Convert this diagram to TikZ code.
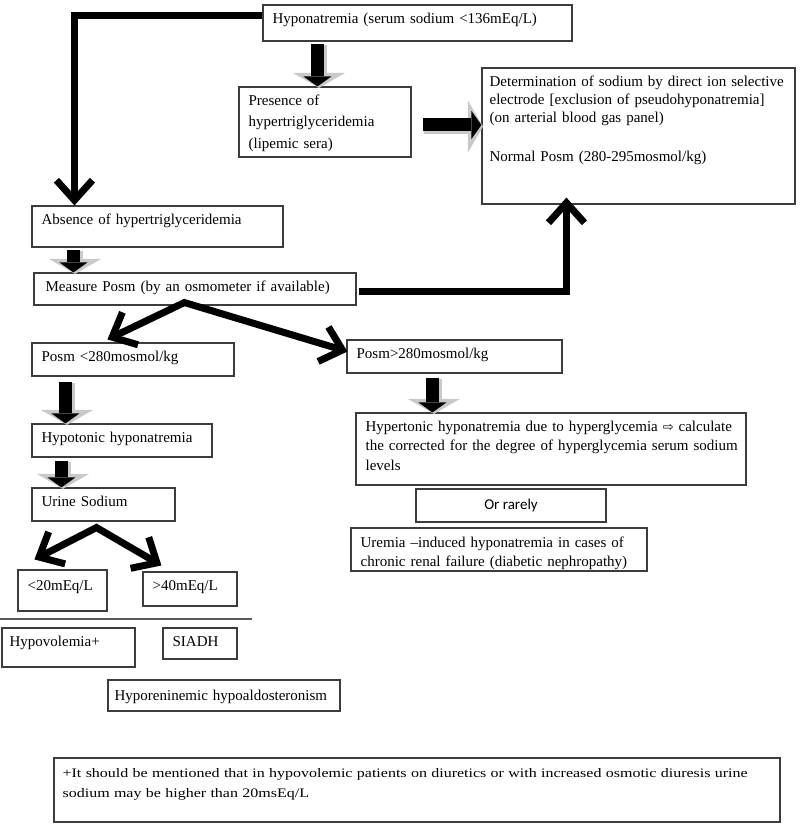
\documentclass[tikz,border=0pt]{standalone}
\usepackage{fontspec}
\setmainfont{Liberation Serif}
\newfontfamily\calibrifont{Carlito}
\newfontfamily\symbolfont{DejaVu Sans}
\newfontfamily\notefont[FakeStretch=1.23]{Liberation Serif}
\usetikzlibrary{arrows.meta,calc}
\definecolor{ink}{HTML}{000000}
\definecolor{frame}{HTML}{3C3C3C}
\definecolor{bevel}{HTML}{C9C9C9}
\definecolor{rule}{HTML}{5A5A5A}
\tikzset{
  chevron/.tip={Straight Barb[length=20pt,width=36pt]},
  boxframe/.style={draw=frame, line width=1.1pt, inner sep=0pt},
  boxtext/.style={anchor=base west, inner sep=0pt, align=left, text=ink, font=\fontsize{15}{18}\selectfont},
  bigarrow/.style={draw=ink, line width=7pt, -chevron},
  forkarrow/.style={draw=ink, line width=7pt, chevron-chevron},
  blockbody/.style={draw=ink, line width=13pt, -{Triangle[length=10pt,width=28pt,line width=0pt]}},
  blockbevel/.style={draw=bevel, line width=16pt, -{Triangle[length=15pt,width=52pt,line width=0pt]}},
}
% box from (x1,y1) to (x2,y2), text hung from its top left corner
\newcommand{\flowbox}[7][]{%
  \node[boxframe, minimum width={#5-#3}, minimum height={#6-#4}] (#2) at ({(#3+#5)/2},{(#4+#6)/2}) {};
  \node[boxtext, text width={#5-#3}, #1] (#2-t) at ($(#2.north west)+(10,19)$) {#7};}
\newcommand{\blockarrow}[2]{%
  \draw[blockbevel, transform canvas={shift={(1.5pt,-1.5pt)}}] (#1) -- (#2);
  \draw[blockbody] (#1) -- (#2);}

\begin{document}
\begin{tikzpicture}[x=1pt,y=-1pt]
\useasboundingbox (0,0) rectangle (800,829);

% top
\flowbox{hypo}{263}{5}{572}{41}{Hyponatremia (serum sodium <136mEq/L)}
\flowbox[font=\fontsize{15}{21.5}\selectfont]{pres}{239}{87}{411}{157}{Presence of\\hypertriglyceridemia\\(lipemic sera)}
\flowbox[xshift=-2pt]{det}{482}{68}{795}{204}{Determination of sodium by direct ion selective\\electrode [exclusion of pseudohyponatremia]\\(on arterial blood gas panel)\\[21pt]Normal Posm (280-295mosmol/kg)}
\flowbox{absence}{32}{206}{283}{247}{Absence of hypertriglyceridemia}
\flowbox[xshift=2pt]{measure}{34}{273}{356}{305}{Measure Posm (by an osmometer if available)}

% hypotonic branch
\flowbox{posmlow}{32}{343}{234}{376}{Posm <280mosmol/kg}
\flowbox{hypotonic}{32}{424}{212}{457}{Hypotonic hyponatremia}
\flowbox{urine}{32}{488}{175}{521}{Urine Sodium}
\flowbox[yshift=-2pt]{low20}{18}{570}{107}{611}{<20mEq/L}
\flowbox{high40}{143}{572}{237}{606}{>40mEq/L}
\draw[rule, line width=1.3pt] (0,619) -- (252,619);
\flowbox[xshift=-2pt]{hypovol}{2}{628}{135}{667}{Hypovolemia+}
\flowbox{siadh}{163}{628}{237}{659}{SIADH}
\flowbox[xshift=-3pt, yshift=-2pt]{hyporen}{108}{680}{340}{711}{Hyporeninemic hypoaldosteronism}

% hypertonic branch
\flowbox{posmhigh}{347}{340}{562}{373}{Posm>280mosmol/kg}
\flowbox[font=\fontsize{15}{19.5}\selectfont]{hypertonic}{356}{413}{746}{485}{Hypertonic hyponatremia due to hyperglycemia {\symbolfont\fontsize{13}{18}\selectfont ⇨} calculate\\the corrected for the degree of hyperglycemia serum sodium\\levels}
\node[boxframe, minimum width=190, minimum height=33, font=\calibrifont\fontsize{15}{18}\selectfont] (rarely) at (511,505.5) {Or rarely};
\flowbox[font=\fontsize{15}{19}\selectfont, yshift=-1pt]{uremia}{351}{528}{647}{571}{Uremia –induced hyponatremia in cases of\\chronic renal failure (diabetic nephropathy)}

% footnote
\flowbox[font=\notefont\fontsize{13}{20}\selectfont, xshift=-1pt, yshift=-1pt]{footnote}{54}{758}{780}{822}{+It should be mentioned that in hypovolemic patients on diuretics or with increased osmotic diuresis urine\\sodium may be higher than 20msEq/L}

% block arrows
\coordinate (hypo-out) at ($(hypo.south -| pres.north west)+(79,2)$);
\coordinate (pres-in) at ($(pres.north west)+(79,0)$);
\coordinate (pres-out) at ($(pres.east)+(11,3)$);
\coordinate (det-in) at (pres-out -| det.west);
\coordinate (abs-out) at ($(absence.south west)+(42,2)$);
\coordinate (meas-in) at ($(measure.north west)+(40,0)$);
\coordinate (low-out) at ($(posmlow.south west)+(34,5)$);
\coordinate (hypot-in) at ($(hypotonic.north west)+(34,0)$);
\coordinate (hypot-out) at ($(hypotonic.south west)+(30,3)$);
\coordinate (urine-in) at ($(urine.north west)+(30,0)$);
\coordinate (high-out) at ($(posmhigh.south west)+(86,4)$);
\coordinate (hyper-in) at ($(hypertonic.north west)+(77,0)$);
\blockarrow{hypo-out}{pres-in}
\blockarrow{pres-out}{det-in}
\blockarrow{abs-out}{meas-in}
\blockarrow{low-out}{hypot-in}
\blockarrow{hypot-out}{urine-in}
\blockarrow{high-out}{hyper-in}

% thick arrows
\draw[bigarrow] ($(hypo.north west)+(0,11)$) -| ($(absence.north west)+(43,0)$);
\draw[bigarrow] ($(measure.east)+(2,2)$) -| ($(det.south west)+(85,-7)$);
\coordinate (fork1) at ($(measure.south west)+(151,-3)$);
\draw[forkarrow] ($(posmlow.north west)+(76,-3)$) -- (fork1) -- ($(posmhigh.west)+(1,-5)$);
\coordinate (fork2) at ($(urine.south west)+(65,6)$);
\draw[forkarrow] ($(low20.north west)+(17,-10)$) -- (fork2) -- ($(high40.north west)+(19,-6)$);

\end{tikzpicture}
\end{document}
